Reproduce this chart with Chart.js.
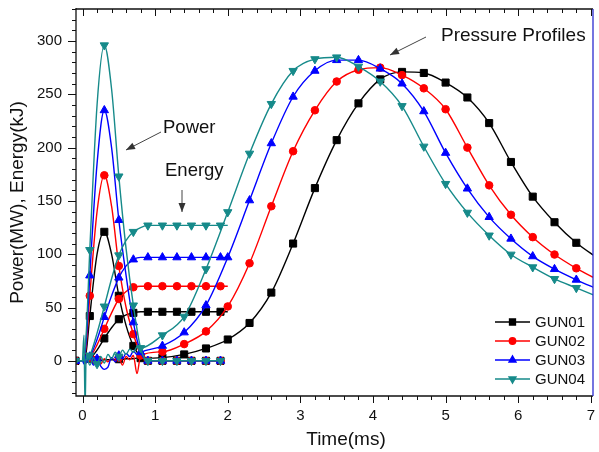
<!DOCTYPE html>
<html>
<head>
<meta charset="utf-8">
<script src="https://cdn.jsdelivr.net/npm/chart.js@4/dist/chart.umd.min.js"></script>
<style>
html,body{margin:0;padding:0;background:#fff;}
canvas{display:block;}
</style>
</head>
<body>
<canvas id="c" width="599" height="452"></canvas>
<script>
// ---------- DATA ----------
const guns = ['GUN01', 'GUN02', 'GUN03', 'GUN04'];

// Power traces (MW)
const powerTime = [-0.1, 0, 0.05, 0.1, 0.2, 0.3, 0.4, 0.5, 0.6, 0.7, 0.8, 0.9, 1.1, 1.3, 1.5, 1.7, 1.9];
const power01 = [0, 0, 8, 42, 100, 121, 100, 61, 33, 14, 4, 0, 0, 0, 0, 0, 0];
const power02 = [0, 0, 14, 61, 140, 174, 145, 89, 50, 25, 6, 0, 0, 0, 0, 0, 0];
const power03 = [0, 0, 18, 80, 185, 235, 200, 132, 80, 36, 8, 0, 0, 0, 0, 0, 0];
const power04 = [0, 0, 25, 104, 240, 296, 255, 173, 105, 52, 12, 0, 0, 0, 0, 0, 0];
const powerMarkTime = [-0.1, 0.1, 0.3, 0.5, 0.7, 0.9, 1.1, 1.3, 1.5, 1.7, 1.9];

// Energy traces (kJ)
const energyTime = [-0.1, 0, 0.1, 0.2, 0.3, 0.4, 0.5, 0.6, 0.7, 0.8, 0.9, 1.1, 1.3, 1.5, 1.7, 1.9, 2.0];
const energy01 = [0, 0, 2, 10, 21, 31, 39, 43, 45, 46, 46, 46, 46, 46, 46, 46, 46];
const energy02 = [0, 0, 3, 15, 30, 45, 58, 65, 69, 70, 70, 70, 70, 70, 70, 70, 70];
const energy03 = [0, 0, 4, 20, 41, 61, 78, 89, 95, 97, 97, 97, 97, 97, 97, 97, 97];
const energy04 = [0, 0, 5, 26, 51, 77, 99, 113, 121, 125, 127, 127, 127, 127, 127, 127, 127];
const energyMarkTime = [-0.1, 0.1, 0.3, 0.5, 0.7, 0.9, 1.1, 1.3, 1.5, 1.7, 1.9];

// Pressure profiles
const pressureTime = [0, 0.02, 0.035, 0.05,
  0.1, 0.15, 0.2, 0.25, 0.3, 0.35, 0.4, 0.45, 0.5, 0.55, 0.6, 0.65, 0.7, 0.75, 0.8,
  1.1, 1.4, 1.7, 2.0, 2.3, 2.6, 2.9, 3.2, 3.5, 3.8, 4.1, 4.4, 4.7, 5.0, 5.3, 5.6, 5.9, 6.2, 6.5, 6.8,
  7.1];
const pressure01 = [0, 0, 0, 0,
  0, 0, 0.5, 0.5, 1, 1, 1, 1, 1.5, 1.5, 2, 2, 2, 2.5, 2.5,
  3, 6, 11.6, 20, 35.5, 64, 110, 162, 207, 241.5, 264, 271, 270, 261, 247, 223, 186.5, 154, 130, 110.7,
  96];
const pressure02 = [0, 2, -3, 1,
  2, -2, 1, -3, 2, -1, 3, 0, 3, -4, 4, 1, 5, -12, 5,
  8.5, 15.7, 27.6, 51, 91.5, 145, 196.6, 235, 262, 273, 275, 268, 255.6, 236, 200, 164.6, 137, 116, 99.7, 86.8,
  76];
const pressure03 = [0, -3, 5, -2,
  3, -4, 2, -5, -8, -6, 3, -1, 5, 2, 7, 4, 9, 6, 8,
  14, 26.6, 52, 97, 150.5, 204, 247.7, 272, 282, 282, 274, 260, 234, 195, 161.5, 134.8, 114.5, 98, 86, 76,
  67];
const pressure04 = [0, 24, -45, 6,
  -4, 3, -3, 4, -2, 6, 2, 8, 4, 10, 6, 11, 8, 13, 12,
  24, 41.5, 86, 139.5, 194.4, 241, 272, 283, 284.7, 276, 262, 239, 201, 166, 139, 117.6, 99.7, 87.8, 76.8, 68.4,
  60];
const pressureMarkTime = [0.2, 0.5, 0.8, 1.1, 1.4, 1.7, 2.0, 2.3, 2.6, 2.9, 3.2, 3.5, 3.8, 4.1, 4.4, 4.7, 5.0, 5.3, 5.6, 5.9, 6.2, 6.5, 6.8];

// Axis ticks
const xTicks = [0, 1, 2, 3, 4, 5, 6, 7];
const yTicks = [0, 50, 100, 150, 200, 250, 300];

// ---------- STYLE ----------
const colors = ['#000000', '#ff0000', '#0000ff', '#168a8a'];
const pStyles = ['rect', 'circle', 'triangle', 'triangle'];
const pRot = [0, 0, 0, 180];
const pRad = [5, 3.8, 4.8, 4.8];
const FONT = "'Liberation Sans', Arial, sans-serif";

const powerSets = [power01, power02, power03, power04];
const energySets = [energy01, energy02, energy03, energy04];
const pressureSets = [pressure01, pressure02, pressure03, pressure04];

function pts(times, vals) { return times.map((t, i) => ({x: t, y: vals[i]})); }
function markerRadius(marks, r) {
  return ctx => (ctx.raw && marks.some(t => Math.abs(t - ctx.raw.x) < 1e-6)) ? r : 0;
}

const datasets = [];
guns.forEach((g, i) => {
  const common = {
    borderColor: colors[i], backgroundColor: colors[i],
    pointBorderColor: colors[i], pointBackgroundColor: colors[i],
    borderWidth: 1.4, pointBorderWidth: 1,
    pointStyle: pStyles[i], rotation: pRot[i],
    cubicInterpolationMode: 'monotone', fill: false,
    order: 3 - i, pointHoverRadius: 0
  };
  datasets.push(Object.assign({}, common, {label: g + ' power', data: pts(powerTime, powerSets[i]), pointRadius: markerRadius(powerMarkTime, pRad[i])}));
  datasets.push(Object.assign({}, common, {label: g + ' energy', data: pts(energyTime, energySets[i]), pointRadius: markerRadius(energyMarkTime, pRad[i])}));
  datasets.push(Object.assign({}, common, {label: g + ' pressure', data: pts(pressureTime, pressureSets[i]), pointRadius: markerRadius(pressureMarkTime, pRad[i])}));
});

// ---------- PLUGINS ----------
const framePlugin = {
  id: 'frame',
  afterDatasetsDraw(chart) {
    const {ctx, chartArea: a, scales: {x, y}} = chart;
    ctx.save();
    ctx.strokeStyle = '#111';
    ctx.lineWidth = 1.3;
    ctx.beginPath();
    ctx.moveTo(a.left, a.top - 1); ctx.lineTo(a.left, a.bottom);
    ctx.lineTo(a.right, a.bottom);
    ctx.moveTo(a.left, a.top); ctx.lineTo(a.right, a.top);
    ctx.stroke();
    // right border (blue in reference)
    ctx.strokeStyle = '#2a2ad0';
    ctx.beginPath(); ctx.moveTo(a.right, a.top); ctx.lineTo(a.right, a.bottom); ctx.stroke();
    ctx.strokeStyle = '#111';
    ctx.lineWidth = 1;
    ctx.beginPath();
    for (let k = 0; k <= 35; k++) {
      const v = k * 0.2;
      const px = Math.round(x.getPixelForValue(v)) + 0.5;
      const major = k % 5 === 0;
      const L = major ? 7 : 4;
      ctx.moveTo(px, a.bottom); ctx.lineTo(px, a.bottom + L);
      ctx.moveTo(px, a.top); ctx.lineTo(px, a.top + L);
    }
    for (let v = -30; v <= 330; v += 10) {
      const py = Math.round(y.getPixelForValue(v)) + 0.5;
      const major = v % 50 === 0;
      const L = major ? 8 : 4;
      ctx.moveTo(a.left, py); ctx.lineTo(a.left - L, py);
    }
    ctx.stroke();
    ctx.restore();
  }
};

function arrow(ctx, x1, y1, x2, y2) {
  ctx.beginPath(); ctx.moveTo(x1, y1); ctx.lineTo(x2, y2); ctx.stroke();
  const ang = Math.atan2(y2 - y1, x2 - x1);
  const L = 9, W = 3.5;
  ctx.beginPath();
  ctx.moveTo(x2, y2);
  ctx.lineTo(x2 - L * Math.cos(ang) + W * Math.sin(ang), y2 - L * Math.sin(ang) - W * Math.cos(ang));
  ctx.lineTo(x2 - L * Math.cos(ang) - W * Math.sin(ang), y2 - L * Math.sin(ang) + W * Math.cos(ang));
  ctx.closePath(); ctx.fill();
}

const annotPlugin = {
  id: 'annot',
  afterDraw(chart) {
    const ctx = chart.ctx;
    ctx.save();
    ctx.fillStyle = '#111';
    ctx.textBaseline = 'alphabetic';
    ctx.textAlign = 'left';
    ctx.font = '18.5px ' + FONT;
    ctx.fillText('Power', 163, 133);
    ctx.fillText('Energy', 165, 176);
    ctx.font = '19px ' + FONT;
    ctx.fillText('Pressure Profiles', 441, 41);
    // x-axis title
    ctx.font = '19px ' + FONT;
    ctx.textAlign = 'center';
    ctx.textBaseline = 'middle';
    ctx.fillText('Time(ms)', 346, 440);
    // arrows
    ctx.strokeStyle = '#444'; ctx.fillStyle = '#333'; ctx.lineWidth = 1;
    arrow(ctx, 161, 132, 126, 150);
    arrow(ctx, 182, 190, 182, 212);
    arrow(ctx, 426, 37, 390, 55);
    // legend
    ctx.textAlign = 'left'; ctx.textBaseline = 'middle';
    ctx.font = '15px ' + FONT;
    guns.forEach((g, i) => {
      const yy = 322 + i * 19;
      ctx.strokeStyle = colors[i]; ctx.fillStyle = colors[i]; ctx.lineWidth = 1.3;
      ctx.beginPath(); ctx.moveTo(495, yy); ctx.lineTo(530, yy); ctx.stroke();
      Chart.helpers.drawPoint(ctx, {pointStyle: pStyles[i], rotation: pRot[i], radius: pRad[i] * 0.85, borderWidth: 1}, 512.5, yy);
      ctx.fillStyle = '#111';
      ctx.fillText(g, 535, yy + 1);
    });
    ctx.restore();
  }
};

// ---------- CHART ----------
new Chart(document.getElementById('c'), {
  type: 'line',
  data: {datasets},
  options: {
    responsive: false,
    devicePixelRatio: 1,
    animation: false,
    events: [],
    layout: {padding: {top: 9, right: 1, left: 0, bottom: 0}},
    plugins: {legend: {display: false}, tooltip: {enabled: false}},
    scales: {
      x: {
        type: 'linear', min: -0.09, max: 7.03,
        afterBuildTicks: s => { s.ticks = xTicks.map(v => ({value: v})); },
        ticks: {font: {family: FONT, size: 15}, color: '#111', padding: 11, maxRotation: 0, autoSkip: false,
                callback: v => String(v)},
        grid: {display: false, drawTicks: false},
        border: {display: false},
        title: {display: false},
        afterFit: s => { s.height = 56; s.paddingLeft = 0; s.paddingRight = 0; }
      },
      y: {
        type: 'linear', min: -33, max: 330,
        afterBuildTicks: s => { s.ticks = yTicks.map(v => ({value: v})); },
        ticks: {font: {family: FONT, size: 15}, color: '#111', padding: 14, autoSkip: false,
                callback: v => String(v)},
        grid: {display: false, drawTicks: false},
        border: {display: false},
        title: {display: true, text: 'Power(MW), Energy(kJ)', color: '#111',
                font: {family: FONT, size: 19}, padding: {top: 6, bottom: 0}},
        afterFit: s => { s.width = 76; s.paddingTop = 0; s.paddingBottom = 0; }
      }
    }
  },
  plugins: [framePlugin, annotPlugin]
});
</script>
</body>
</html>
